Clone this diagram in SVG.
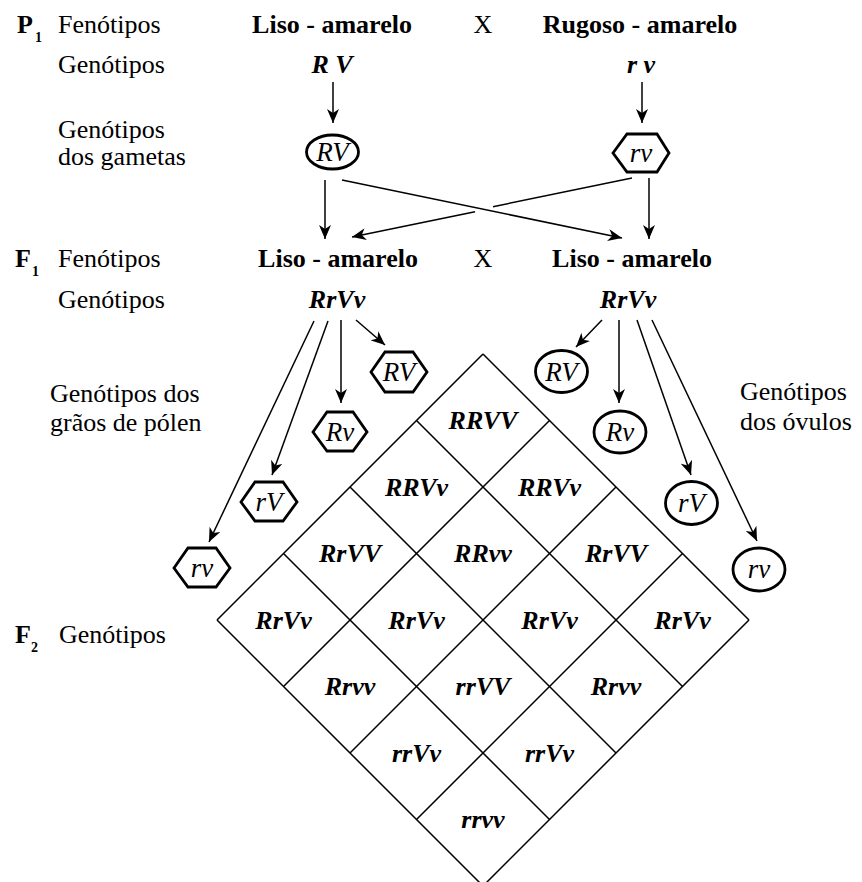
<svg xmlns="http://www.w3.org/2000/svg" width="862" height="882" viewBox="0 0 862 882">
<defs>
<marker id="ah" viewBox="0 0 14 12" markerWidth="14" markerHeight="12" refX="14" refY="6" orient="auto" markerUnits="userSpaceOnUse">
<path d="M0,0 L14,6 L0,12 L4,6 z" fill="#000"/>
</marker>
<style>
text{fill:#000}
.r{font-size:26px}
.b{font-size:26px;font-weight:bold}
.bi{font-size:26px;font-weight:bold;font-style:italic}
.i{font-size:27px;font-style:italic}
.sub{font-size:14px;font-weight:bold}
.m{text-anchor:middle}
.ln{stroke:#000;stroke-width:1.5;fill:none}
.arr{stroke:#000;stroke-width:1.5;fill:none;marker-end:url(#ah)}
.sh{stroke:#000;stroke-width:2.8;fill:#fff}
.grid{stroke:#000;stroke-width:1.5;fill:none}
</style>
</defs>
<rect width="862" height="882" fill="#fff"/>
<g id="diagram" font-family="Liberation Serif, serif">

<g id="labels" font-family="Liberation Serif, serif">
<text x="17" y="33" class="b">P</text><text x="35" y="42" class="sub">1</text>
<text x="58" y="33" class="r">Fenótipos</text>
<text x="58" y="73" class="r">Genótipos</text>
<text x="58" y="138" class="r">Genótipos</text>
<text x="58" y="165" class="r">dos gametas</text>
<text x="15" y="267" class="b">F</text><text x="32" y="276" class="sub">1</text>
<text x="58" y="267" class="r">Fenótipos</text>
<text x="58" y="308" class="r">Genótipos</text>
<text x="50" y="402" class="r">Genótipos dos</text>
<text x="50" y="431" class="r">grãos de pólen</text>
<text x="740" y="400" class="r">Genótipos</text>
<text x="740" y="430" class="r">dos óvulos</text>
<text x="15" y="643" class="b">F</text><text x="31" y="652" class="sub">2</text>
<text x="59" y="643" class="r">Genótipos</text>
</g>

<g id="p1-left" font-family="Liberation Serif, serif">
<text x="332" y="33" class="b m">Liso - amarelo</text>
<text x="332" y="73" class="bi m">R V</text>
</g>
<g id="p1-cross" font-family="Liberation Serif, serif">
<text x="483" y="33" class="r m">X</text>
</g>
<g id="p1-right" font-family="Liberation Serif, serif">
<text x="640" y="33" class="b m">Rugoso - amarelo</text>
<text x="641" y="73" class="bi m">r v</text>
</g>

<g id="gamete-RV-p1" font-family="Liberation Serif, serif">
<ellipse cx="332.5" cy="152" rx="26" ry="17" class="sh"/>
<text x="332.5" y="161" class="i m">RV</text>
</g>
<g id="gamete-rv-p1" font-family="Liberation Serif, serif">
<polygon points="613,153 627,134 657,134 669,153 657,172 627,172" class="sh"/>
<text x="641" y="162" class="i m">rv</text>
</g>

<g id="f1-left" font-family="Liberation Serif, serif">
<text x="338" y="267" class="b m">Liso - amarelo</text>
<text x="337" y="308" class="bi m">RrVv</text>
</g>
<g id="f1-cross" font-family="Liberation Serif, serif">
<text x="483" y="267" class="r m">X</text>
</g>
<g id="f1-right" font-family="Liberation Serif, serif">
<text x="632" y="267" class="b m">Liso - amarelo</text>
<text x="628" y="308" class="bi m">RrVv</text>
</g>

<g id="gametes-f1" font-family="Liberation Serif, serif">
<g id="pollen-RV">
<polygon points="371,372 385,352 413,352 427,372 413,392 385,392" class="sh"/>
<text x="399" y="381" class="i m">RV</text>
</g>
<g id="pollen-Rv">
<polygon points="313,432 327,412 353,412 367,432 353,451 327,451" class="sh"/>
<text x="340" y="441" class="i m">Rv</text>
</g>
<g id="pollen-rV">
<polygon points="241,502 255,482 283,482 297,502 283,521 255,521" class="sh"/>
<text x="269" y="511" class="i m">rV</text>
</g>
<g id="pollen-rv">
<polygon points="174,568 188,548 216,548 230,568 216,587 188,587" class="sh"/>
<text x="202" y="577" class="i m">rv</text>
</g>
<g id="ovule-RV">
<ellipse cx="561.5" cy="371.5" rx="26" ry="21" class="sh"/>
<text x="561.5" y="381" class="i m">RV</text>
</g>
<g id="ovule-Rv">
<ellipse cx="620" cy="432" rx="26" ry="21" class="sh"/>
<text x="620" y="441" class="i m">Rv</text>
</g>
<g id="ovule-rV">
<ellipse cx="691.5" cy="503" rx="26" ry="21.5" class="sh"/>
<text x="691.5" y="512" class="i m">rV</text>
</g>
<g id="ovule-rv">
<ellipse cx="759" cy="569.5" rx="26" ry="21.5" class="sh"/>
<text x="759" y="578" class="i m">rv</text>
</g>
</g>

<g id="connectors">
<line x1="333" y1="82" x2="333" y2="123" class="arr"/>
<line x1="642" y1="82" x2="642" y2="123" class="arr"/>
<line x1="325" y1="180" x2="325" y2="239" class="arr"/>
<line x1="342" y1="180" x2="622" y2="238" class="arr"/>
<line x1="632" y1="178" x2="493" y2="206.7" class="ln"/>
<line x1="475" y1="211.7" x2="352" y2="237" class="arr"/>
<line x1="649" y1="178" x2="649" y2="239" class="arr"/>
<line x1="314" y1="321" x2="209" y2="542" class="arr"/>
<line x1="328" y1="321" x2="272" y2="475" class="arr"/>
<line x1="341" y1="320" x2="341" y2="403" class="arr"/>
<line x1="356" y1="320" x2="385" y2="345" class="arr"/>
<line x1="602" y1="320" x2="576" y2="347" class="arr"/>
<line x1="619" y1="320" x2="619" y2="403" class="arr"/>
<line x1="637" y1="320" x2="691" y2="475" class="arr"/>
<line x1="652" y1="320" x2="757" y2="541" class="arr"/>
</g>

<g id="punnett-grid" class="grid">
<path d="M483,354 L217,620 M549.5,420.5 L283.5,686.5 M616,487 L350,753 M682.5,553.5 L416.5,819.5 M749,620 L483,886"/>
<path d="M483,354 L749,620 M416.5,420.5 L682.5,686.5 M350,487 L616,753 M283.5,553.5 L549.5,819.5 M217,620 L483,886"/>
</g>
<g id="punnett-cells" font-family="Liberation Serif, serif">
<text x="483" y="429" class="bi m">RRVV</text>
<text x="416.5" y="496" class="bi m">RRVv</text>
<text x="549.5" y="496" class="bi m">RRVv</text>
<text x="350" y="562" class="bi m">RrVV</text>
<text x="483" y="562" class="bi m">RRvv</text>
<text x="616" y="562" class="bi m">RrVV</text>
<text x="283.5" y="629" class="bi m">RrVv</text>
<text x="416.5" y="629" class="bi m">RrVv</text>
<text x="549.5" y="629" class="bi m">RrVv</text>
<text x="682.5" y="629" class="bi m">RrVv</text>
<text x="350" y="695" class="bi m">Rrvv</text>
<text x="483" y="695" class="bi m">rrVV</text>
<text x="616" y="695" class="bi m">Rrvv</text>
<text x="416.5" y="762" class="bi m">rrVv</text>
<text x="549.5" y="762" class="bi m">rrVv</text>
<text x="483" y="828" class="bi m">rrvv</text>
</g>
</g>
</svg>
